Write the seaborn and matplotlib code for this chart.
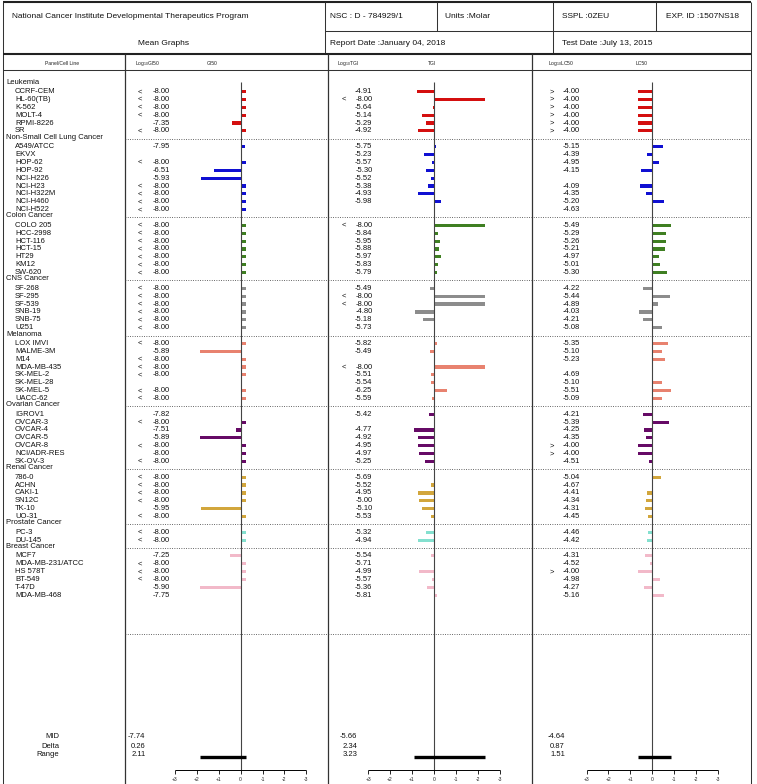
import numpy as np
import pandas as pd
import matplotlib
matplotlib.use('Agg')
import matplotlib.pyplot as plt
import seaborn as sns

# ---- data ----
panels = ['Leukemia', 'Non-Small Cell Lung Cancer', 'Colon Cancer', 'CNS Cancer', 'Melanoma',
          'Ovarian Cancer', 'Renal Cancer', 'Prostate Cancer', 'Breast Cancer']
panel_sizes = [6, 9, 7, 6, 8, 7, 6, 2, 6]
panel_colors = ['#d40f0f', '#1010d2', '#3f7f22', '#8c8c8c', '#e8826f',
                '#660a66', '#d2a63c', '#84e0cf', '#f2b9c9']

cell_lines = [
    'CCRF-CEM', 'HL-60(TB)', 'K-562', 'MOLT-4', 'RPMI-8226', 'SR',
    'A549/ATCC', 'EKVX', 'HOP-62', 'HOP-92', 'NCI-H226', 'NCI-H23', 'NCI-H322M', 'NCI-H460', 'NCI-H522',
    'COLO 205', 'HCC-2998', 'HCT-116', 'HCT-15', 'HT29', 'KM12', 'SW-620',
    'SF-268', 'SF-295', 'SF-539', 'SNB-19', 'SNB-75', 'U251',
    'LOX IMVI', 'MALME-3M', 'M14', 'MDA-MB-435', 'SK-MEL-2', 'SK-MEL-28', 'SK-MEL-5', 'UACC-62',
    'IGROV1', 'OVCAR-3', 'OVCAR-4', 'OVCAR-5', 'OVCAR-8', 'NCI/ADR-RES', 'SK-OV-3',
    '786-0', 'ACHN', 'CAKI-1', 'SN12C', 'TK-10', 'UO-31',
    'PC-3', 'DU-145',
    'MCF7', 'MDA-MB-231/ATCC', 'HS 578T', 'BT-549', 'T-47D', 'MDA-MB-468',
]

nan = np.nan
gi50 = [-8.00, -8.00, -8.00, -8.00, -7.35, -8.00,
        -7.95, nan, -8.00, -6.51, -5.93, -8.00, -8.00, -8.00, -8.00,
        -8.00, -8.00, -8.00, -8.00, -8.00, -8.00, -8.00,
        -8.00, -8.00, -8.00, -8.00, -8.00, -8.00,
        -8.00, -5.89, -8.00, -8.00, -8.00, nan, -8.00, -8.00,
        -7.82, -8.00, -7.51, -5.89, -8.00, -8.00, -8.00,
        -8.00, -8.00, -8.00, -8.00, -5.95, -8.00,
        -8.00, -8.00,
        -7.25, -8.00, -8.00, -8.00, -5.90, -7.75]
gi50_mod = ['<', '<', '<', '<', '', '<',
            '', '', '<', '', '', '<', '<', '<', '<',
            '<', '<', '<', '<', '<', '<', '<',
            '<', '<', '<', '<', '<', '<',
            '<', '', '<', '<', '<', '', '<', '<',
            '', '<', '', '', '<', '', '<',
            '<', '<', '<', '<', '', '<',
            '<', '<',
            '', '<', '<', '<', '', '']

tgi = [-4.91, -8.00, -5.64, -5.14, -5.29, -4.92,
       -5.75, -5.23, -5.57, -5.30, -5.52, -5.38, -4.93, -5.98, nan,
       -8.00, -5.84, -5.95, -5.88, -5.97, -5.83, -5.79,
       -5.49, -8.00, -8.00, -4.80, -5.18, -5.73,
       -5.82, -5.49, nan, -8.00, -5.51, -5.54, -6.25, -5.59,
       -5.42, nan, -4.77, -4.92, -4.95, -4.97, -5.25,
       -5.69, -5.52, -4.95, -5.00, -5.10, -5.53,
       -5.32, -4.94,
       -5.54, -5.71, -4.99, -5.57, -5.36, -5.81]
tgi_mod = ['', '<', '', '', '', '',
           '', '', '', '', '', '', '', '', '',
           '<', '', '', '', '', '', '',
           '', '<', '<', '', '', '',
           '', '', '', '<', '', '', '', '',
           '', '', '', '', '', '', '',
           '', '', '', '', '', '',
           '', '',
           '', '', '', '', '', '']

lc50 = [-4.00, -4.00, -4.00, -4.00, -4.00, -4.00,
        -5.15, -4.39, -4.95, -4.15, nan, -4.09, -4.35, -5.20, -4.63,
        -5.49, -5.29, -5.26, -5.21, -4.97, -5.01, -5.30,
        -4.22, -5.44, -4.89, -4.03, -4.21, -5.08,
        -5.35, -5.10, -5.23, nan, -4.69, -5.10, -5.51, -5.09,
        -4.21, -5.39, -4.25, -4.35, -4.00, -4.00, -4.51,
        -5.04, -4.67, -4.41, -4.34, -4.31, -4.45,
        -4.46, -4.42,
        -4.31, -4.52, -4.00, -4.98, -4.27, -5.16]
lc50_mod = ['>', '>', '>', '>', '>', '>',
            '', '', '', '', '', '', '', '', '',
            '', '', '', '', '', '', '',
            '', '', '', '', '', '',
            '', '', '', '', '', '', '', '',
            '', '', '', '', '>', '>', '',
            '', '', '', '', '', '',
            '', '',
            '', '', '>', '', '', '']

mid = [-7.74, -5.66, -4.64]
delta = [0.26, 2.34, 0.87]
ranges = [2.11, 3.23, 1.51]

# ---- layout (pixels of the 757x784 page) ----
W, H = 757, 784
Y0, DY = 83.7, 7.87          # first row and row pitch
COL_X = [3, 124.6, 328, 532.4, 751]
ZERO_X = [240.6, 433.8, 652.2]
UNIT = 21.9

def ypix(slot):
    return Y0 + DY * slot

def slot_of(y):
    return (y - Y0) / DY

# slot for every row (group header takes one slot)
panel_of, slots, header_slots = [], [], []
s = 0
for p, n in zip(panels, panel_sizes):
    header_slots.append(s)
    s += 1
    for _ in range(n):
        panel_of.append(p)
        slots.append(s)
        s += 1

df = pd.DataFrame({'cell': cell_lines, 'panel': panel_of, 'slot': slots,
                   'GI50': gi50, 'TGI': tgi, 'LC50': lc50})
pal = dict(zip(panels, panel_colors))

narrow = ['Liberation Sans Narrow', 'Liberation Sans', 'DejaVu Sans']
sns.set_theme(style='white')
plt.rcParams['font.family'] = ['Liberation Sans', 'DejaVu Sans']
plt.rcParams['mathtext.fontset'] = 'custom'
plt.rcParams['mathtext.rm'] = 'Liberation Sans'
plt.rcParams['mathtext.default'] = 'regular'

fig = plt.figure(figsize=(W / 100, H / 100), dpi=100)
fig.patch.set_facecolor('white')

# overlay in page pixels for frame and text
ov = fig.add_axes([0, 0, 1, 1])
ov.set_xlim(0, W)
ov.set_ylim(H, 0)
ov.set_axis_off()

lk = dict(color='#333333', lw=0.75)
ov.hlines(2, 3, 751, color='#222222', lw=1.5)
ov.vlines([3, 751], 2, H, **lk)
ov.vlines(325, 2, 54.3, **lk)
ov.hlines(30.7, 325, 751, **lk)
ov.vlines([437, 656], 2, 30.7, **lk)
ov.vlines(552.7, 2, 54.3, **lk)
ov.hlines(54.3, 3, 751, color='#222222', lw=1.5)
ov.hlines(70, 3, 751, **lk)
ov.vlines(COL_X[1:4], 54.3, H, color='#333333', lw=0.9)

hdr = dict(fontsize=6, va='center', color='#111111')
ov.text(12, 16, 'National Cancer Institute Developmental Therapeutics Program', **hdr)
ov.text(163, 43, 'Mean Graphs', ha='center', **hdr)
ov.text(330, 16, 'NSC : D - 784929/1', **hdr)
ov.text(445, 16, 'Units :Molar', **hdr)
ov.text(562, 16, 'SSPL :0ZEU', **hdr)
ov.text(666, 16, 'EXP. ID :1507NS18', **hdr)
ov.text(330, 43, 'Report Date :January 04, 2018', **hdr)
ov.text(562, 43, 'Test Date :July 13, 2015', **hdr)

ch = dict(fontsize=3.6, va='center', color='#222222', family=narrow)
ov.text(62, 63.5, 'Panel/Cell Line', ha='center', **ch)
ov.text(135, 63.5, r'Log$_{10}$GI50', **ch)
ov.text(212, 63.5, 'GI50', ha='center', **ch)
ov.text(337, 63.5, r'Log$_{10}$TGI', **ch)
ov.text(432, 63.5, 'TGI', ha='center', **ch)
ov.text(548, 63.5, r'Log$_{10}$LC50', **ch)
ov.text(642, 63.5, 'LC50', ha='center', **ch)

# dotted separators between panels
sep_y = [ypix(h) for h in header_slots[1:]] + [634]
ov.hlines(sep_y, COL_X[1], 751, color='#444444', lw=0.7, linestyles=(0, (0.8, 1.6)))

lab = dict(fontsize=5.5, va='center', color='#111111', family=narrow)
for p, h in zip(panels, header_slots):
    ov.text(6.5, ypix(h) - 1.5, p, **lab)
for c, sl in zip(cell_lines, slots):
    ov.text(15, ypix(sl), c, **lab)

# value columns
cols = [('GI50', gi50, gi50_mod, 140, 170),
        ('TGI', tgi, tgi_mod, 344, 372.5),
        ('LC50', lc50, lc50_mod, 551.7, 580)]
for name, vals, mods, mx, vx in cols:
    for v, m, sl in zip(vals, mods, slots):
        if np.isnan(v):
            continue
        if m:
            ov.text(mx, ypix(sl), m, ha='center', **lab)
        ov.text(vx, ypix(sl), f'{v:.2f}', ha='right', **lab)

# summary rows
for txt, y in zip(['MID', 'Delta', 'Range'], [737, 746, 754]):
    ov.text(59, y, txt, ha='right', **lab)
for i, vx in enumerate([145.5, 357.5, 565]):
    for val, y in zip([mid[i], delta[i], ranges[i]], [737, 746, 754]):
        ov.text(vx, y, f'{val:.2f}', ha='right', **lab)

# ---- the three bar panels ----
y_top, y_bot = 70, H
for i, (name, vals, mods, _, _) in enumerate(cols):
    x_l, x_r = COL_X[i + 1], COL_X[i + 2]
    ax = fig.add_axes([x_l / W, 0, (x_r - x_l) / W, (y_bot - y_top) / H])
    ax.set_facecolor('none')
    d = df.copy()
    d['dev'] = d[name] - mid[i]
    sns.barplot(data=d, x='dev', y='slot', hue='panel', hue_order=panels, palette=pal,
                orient='h', native_scale=True, dodge=False, errorbar=None,
                width=0.4, saturation=1, linewidth=0, legend=False, ax=ax)
    ax.set_xlim((ZERO_X[i] - x_l) / UNIT, (ZERO_X[i] - x_r) / UNIT)
    ax.set_ylim(slot_of(y_bot), slot_of(y_top))
    ax.set_axis_off()

    y_axis = slot_of(770)
    ax.vlines(0, slot_of(81.7), y_axis, color='#444444', lw=0.8)
    # range bar
    ax.hlines(slot_of(756.7), d['dev'].min(), d['dev'].max(), color='black', lw=2.4)
    # deviation scale
    ticks = [3, 2, 1, 0, -1, -2, -3]
    ax.hlines(y_axis, -3, 3, color='black', lw=0.7)
    ax.vlines(ticks, y_axis, y_axis + 0.5, color='black', lw=0.6)
    for t in ticks:
        ax.text(t, slot_of(779.5), f'+{t}' if t > 0 else str(t), ha='center', va='center',
                fontsize=3.6, family=narrow, color='#222222')

fig.savefig('out.png', dpi=100)
